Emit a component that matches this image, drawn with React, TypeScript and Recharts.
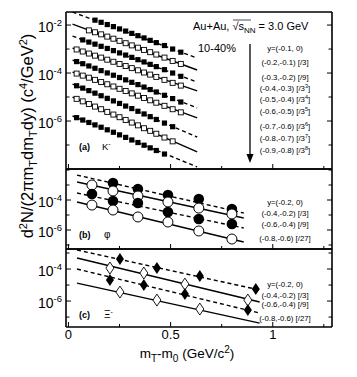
import React from "react";
import { ComposedChart, Scatter, XAxis, YAxis } from "recharts";

const FONT = "'Liberation Sans', Arial, Helvetica, sans-serif";

// shared x axis (mT - m0, GeV/c^2)
const xDomain = [-0.012, 1.29];
const xTicks = [0, 0.25, 0.5, 0.75, 1, 1.25];
const xLabelled = [0, 0.5, 1];

// (a) K-  : 9 rapidity slices, scaled by powers of 3
const kaonX = [0.04, 0.07, 0.1, 0.13, 0.16, 0.19, 0.22, 0.25, 0.28, 0.31, 0.34, 0.37, 0.4, 0.43, 0.47, 0.51, 0.55];
const kaonYields: (number | null)[][] = [
  [null, null, null, 1.6e-2, 1.3e-2, 1.05e-2, 8.6e-3, 6.9e-3, 5.6e-3, 4.5e-3, 3.6e-3, 2.9e-3, 2.3e-3, 1.85e-3, 1.4e-3, 1.0e-3, 7.4e-4],
  [null, null, 6.0e-3, 5.0e-3, 4.1e-3, 3.3e-3, 2.7e-3, 2.2e-3, 1.75e-3, 1.42e-3, 1.14e-3, 9.2e-4, 7.4e-4, 5.9e-4, 4.4e-4, 3.2e-4, 2.4e-4],
  [null, 2.4e-3, 1.95e-3, 1.6e-3, 1.3e-3, 1.06e-3, 8.6e-4, 6.9e-4, 5.6e-4, 4.5e-4, 3.6e-4, 2.9e-4, 2.3e-4, 1.85e-4, 1.38e-4, 1.0e-4, 7.3e-5],
  [9.6e-4, 7.9e-4, 6.5e-4, 5.3e-4, 4.4e-4, 3.6e-4, 2.95e-4, 2.4e-4, 1.95e-4, 1.6e-4, 1.3e-4, 1.05e-4, 8.6e-5, 6.9e-5, 5.2e-5, 3.9e-5, 3.0e-5],
  [3.0e-4, 2.45e-4, 1.97e-4, 1.58e-4, 1.26e-4, 1.01e-4, 8.1e-5, 6.5e-5, 5.2e-5, 4.1e-5, 3.3e-5, 2.6e-5, 2.05e-5, 1.62e-5, 1.18e-5, 8.6e-6, 6.2e-6],
  [9.5e-5, 7.8e-5, 6.4e-5, 5.2e-5, 4.2e-5, 3.4e-5, 2.75e-5, 2.2e-5, 1.78e-5, 1.42e-5, 1.14e-5, 9.1e-6, 7.3e-6, 5.8e-6, 4.3e-6, 3.1e-6, 2.3e-6],
  [2.95e-5, 2.35e-5, 1.85e-5, 1.45e-5, 1.13e-5, 8.8e-6, 6.9e-6, 5.4e-6, 4.2e-6, 3.3e-6, 2.55e-6, 1.97e-6, 1.52e-6, 1.16e-6, 8.2e-7, 5.8e-7, null],
  [8.4e-6, 6.6e-6, 5.1e-6, 4.0e-6, 3.1e-6, 2.4e-6, 1.86e-6, 1.44e-6, 1.11e-6, 8.6e-7, 6.6e-7, 5.0e-7, 3.9e-7, 2.95e-7, 2.05e-7, 1.42e-7, null],
  [1.38e-6, 1.1e-6, 8.7e-7, 6.9e-7, 5.5e-7, 4.3e-7, 3.4e-7, 2.65e-7, 2.08e-7, 1.62e-7, 1.27e-7, 9.8e-8, 7.6e-8, 5.9e-8, 4.2e-8, null, null],
];
const kaonFitX = [0.02, 0.63];
const kaonFitY = [
  [3.48e-2, 4.2e-4], [1.1e-2, 1.34e-4], [3.48e-3, 4.2e-5], [1.1e-3, 1.8e-5], [3.48e-4, 3.52e-6],
  [1.1e-4, 1.34e-6], [3.48e-5, 2.16e-7], [1.0e-5, 5.2e-8], [1.62e-6, 1.22e-8],
];
const kaonLabels = [
  "y=(-0.1, 0)", "(-0.2,-0.1) [/3]", "(-0.3,-0.2) [/9]", "(-0.4,-0.3) [/3^3]", "(-0.5,-0.4) [/3^4]",
  "(-0.6,-0.5) [/3^5]", "(-0.7,-0.6) [/3^6]", "(-0.8,-0.7) [/3^7]", "(-0.9,-0.8) [/3^8]",
];

// (b) phi
const phiX = [0.115, 0.218, 0.34, 0.487, 0.638, 0.8];
const phiYields: (number | null)[][] = [
  [null, 1.36e-3, 5.4e-4, 2.15e-4, 1.17e-4, 2.5e-5],
  [1.0e-3, 4.0e-4, 1.85e-4, 7.4e-5, 2.9e-5, 1.17e-5],
  [2.5e-4, 8.6e-5, 6.3e-5, 1.58e-5, 5.4e-6, 2.5e-6],
  [4.6e-5, 2.15e-5, 7.4e-6, 3.4e-6, 8.6e-7, 2.5e-7],
];
const phiFitX = [0.042, 0.858];
const phiFitY = [[4.6e-3, 1.36e-5], [1.58e-3, 6.3e-6], [2.93e-4, 1.36e-6], [7.4e-5, 1.58e-7]];
const phiLabels = ["y=(-0.2, 0)", "(-0.4,-0.2) [/3]", "(-0.6,-0.4) [/9]", "(-0.8,-0.6) [/27]"];

// (c) Xi-
const xiX = [
  [0.252, 0.433, 0.643, 0.917],
  [0.203, 0.369, 0.57, 0.878],
  [0.203, 0.369, 0.57, 0.878],
  [0.252, 0.433, 0.643],
];
const xiYields: (number | null)[][] = [
  [4.2e-4, 1.15e-4, 3.65e-5, 5.6e-6],
  [1.15e-4, 5.6e-5, 1.15e-5, 1.15e-6],
  [2.05e-5, 1.0e-5, 2.74e-6, 2.74e-7],
  [3.65e-6, 1.15e-6, 3.16e-7],
];
const xiFitX = [0.042, 0.936];
const xiFitY = [[1.54e-3, 4.9e-6], [4.9e-4, 8.7e-7], [1.0e-4, 1.78e-7], [1.33e-5, 4.2e-8]];
const xiLabels = phiLabels;

type Pt = { x: number; y: number };
const toPoints = (xs: number[], ys: (number | null)[]): Pt[] =>
  xs.flatMap((x, i) => (ys[i] == null ? [] : [{ x, y: ys[i] as number }]));

const W = 357;
const AXIS = { stroke: "#000", strokeWidth: 1.6 };

// marker shapes
const FilledSquare = (p: any) => <rect x={p.cx - 2.6} y={p.cy - 2.6} width={5.2} height={5.2} fill="#000" />;
const OpenSquare = (p: any) => (
  <rect x={p.cx - 2.5} y={p.cy - 2.5} width={5} height={5} fill="#fff" stroke="#000" strokeWidth={0.9} />
);
const FilledCircle = (p: any) => <circle cx={p.cx} cy={p.cy} r={5.3} fill="#000" />;
const OpenCircle = (p: any) => <circle cx={p.cx} cy={p.cy} r={5} fill="#fff" stroke="#000" strokeWidth={1} />;
const diamond = (cx: number, cy: number) => `M${cx},${cy - 6} L${cx + 4},${cy} L${cx},${cy + 6} L${cx - 4},${cy} Z`;
const FilledDiamond = (p: any) => <path d={diamond(p.cx, p.cy)} fill="#000" />;
const OpenDiamond = (p: any) => <path d={diamond(p.cx, p.cy)} fill="#fff" stroke="#000" strokeWidth={0.9} />;
const NoShape = () => <g />;

// ticks drawn inward
const LeftTick = (p: any) => {
  const e = Math.round(Math.log10(p.payload.value));
  const lab = p.labelled.includes(e);
  return (
    <g>
      <line x1={p.x} x2={p.x + (lab ? 5 : 3.5)} y1={p.y} y2={p.y} stroke="#000" />
      {lab && (
        <text x={p.x - 4} y={p.y + 7} textAnchor="end" fontSize={14} fontFamily={FONT} fill="#000">
          10<tspan dy={-6} fontSize={9.5}>{e}</tspan>
        </text>
      )}
    </g>
  );
};
const RightTick = (p: any) => {
  const e = Math.round(Math.log10(p.payload.value));
  const lab = p.labelled.includes(e);
  return <line x1={p.x - (lab ? 5 : 3.5)} x2={p.x} y1={p.y} y2={p.y} stroke="#000" />;
};
const BottomTick = (p: any) => {
  const v = p.payload.value;
  const major = xLabelled.includes(v);
  return (
    <g>
      <line x1={p.x} x2={p.x} y1={p.y} y2={p.y - (major ? 5 : 3)} stroke="#000" />
      {p.showLabels && major && (
        <text x={p.x} y={p.y + 12} textAnchor="middle" fontSize={13} fontFamily={FONT} fill="#000">
          {v}
        </text>
      )}
    </g>
  );
};
const TopTick = (p: any) => {
  const major = xLabelled.includes(p.payload.value);
  return <line x1={p.x} x2={p.x} y1={p.y} y2={p.y + (major ? 5 : 3)} stroke="#000" />;
};

function Panel(props: any) {
  const { top, height, mt, mb, yDomain, yTicks, labelled, xLabels, children } = props;
  return (
    <div style={{ position: "absolute", left: 0, top }}>
      <ComposedChart width={W} height={height} margin={{ top: mt, right: 24, bottom: mb, left: 0 }}>
        <XAxis xAxisId="b" dataKey="x" type="number" domain={xDomain} ticks={xTicks} interval={0} allowDataOverflow
          height={1} tickSize={0} tickMargin={0} tickLine={false} stroke="#000" axisLine={AXIS}
          tick={(p: any) => <BottomTick {...p} showLabels={xLabels} />} />
        <XAxis xAxisId="t" orientation="top" type="number" domain={xDomain} ticks={xTicks} interval={0} allowDataOverflow
          height={1} tickSize={0} tickMargin={0} tickLine={false} stroke="#000" axisLine={AXIS}
          tick={(p: any) => <TopTick {...p} />} />
        <YAxis yAxisId="l" dataKey="y" type="number" scale="log" domain={yDomain} ticks={yTicks} interval={0} allowDataOverflow
          width={66} tickSize={0} tickMargin={0} tickLine={false} stroke="#000" axisLine={AXIS}
          tick={(p: any) => <LeftTick {...p} labelled={labelled} />} />
        <YAxis yAxisId="r" orientation="right" type="number" scale="log" domain={yDomain} ticks={yTicks} interval={0} allowDataOverflow
          width={1} tickSize={0} tickMargin={0} tickLine={false} stroke="#000" axisLine={AXIS}
          tick={(p: any) => <RightTick {...p} labelled={labelled} />} />
        {children}
      </ComposedChart>
    </div>
  );
}

const fitSeries = (xs: number[], rows: number[][], prefix: string) =>
  rows.map((r, i) => (
    <Scatter key={`${prefix}f${i}`} xAxisId="b" yAxisId="l" data={toPoints(xs, r)} shape={NoShape}
      line={{ stroke: "#000", strokeWidth: 1.4, strokeDasharray: i % 2 === 0 ? "4 3" : undefined }}
      isAnimationActive={false} />
  ));

const pointSeries = (xs: number[] | number[][], rows: (number | null)[][], filled: any, open: any, prefix: string) =>
  rows.map((r, i) => (
    <Scatter key={`${prefix}p${i}`} xAxisId="b" yAxisId="l"
      data={toPoints(Array.isArray(xs[0]) ? (xs as number[][])[i] : (xs as number[]), r)}
      shape={i % 2 === 0 ? filled : open} isAnimationActive={false} />
  ));

// text with "^x" superscripts
function Rich(props: any) {
  const { s, size, ...rest } = props;
  const parts = String(s).split("^");
  return (
    <text fontSize={size} fontFamily={FONT} fill="#000" {...rest}>
      {parts[0]}
      {parts.slice(1).map((p: string, i: number) => (
        <React.Fragment key={i}>
          <tspan dy={-size * 0.4} fontSize={size * 0.7}>{p[0]}</tspan>
          <tspan dy={size * 0.4}>{p.slice(1)}</tspan>
        </React.Fragment>
      ))}
    </text>
  );
}

const kaonLabelY = [51, 65, 80, 91, 102, 114, 129, 141, 153];
const phiLabelY = [205, 216, 227, 241];
const xiLabelY = [287, 298, 307, 321];

export default function App() {
  return (
    <div style={{ position: "absolute", left: 0, top: 0, width: W, height: 377, background: "#fff" }}>
      <Panel top={0} height={170} mt={11} mb={0} yDomain={[1e-8, 0.035]}
        yTicks={[1e-7, 1e-6, 1e-5, 1e-4, 1e-3, 1e-2]} labelled={[-2, -4, -6]} xLabels={false}>
        {fitSeries(kaonFitX, kaonFitY, "k")}
        {pointSeries(kaonX, kaonYields, FilledSquare, OpenSquare, "k")}
      </Panel>
      <Panel top={168} height={82} mt={0} mb={0} yDomain={[5.4e-8, 1.17e-2]}
        yTicks={[1e-7, 1e-6, 1e-5, 1e-4, 1e-3, 1e-2]} labelled={[-4, -6]} xLabels={false}>
        {fitSeries(phiFitX, phiFitY, "p")}
        {pointSeries(phiX, phiYields, FilledCircle, OpenCircle, "p")}
      </Panel>
      <Panel top={248} height={111} mt={0} mb={31} yDomain={[2.4e-8, 1.78e-3]}
        yTicks={[1e-7, 1e-6, 1e-5, 1e-4, 1e-3]} labelled={[-4, -6]} xLabels={true}>
        {fitSeries(xiFitX, xiFitY, "x")}
        {pointSeries(xiX, xiYields, FilledDiamond, OpenDiamond, "x")}
      </Panel>

      <svg width={W} height={377} style={{ position: "absolute", left: 0, top: 0, pointerEvents: "none" }}>
        {/* y title */}
        <text transform="translate(33,136) rotate(-90)" textAnchor="middle" fontSize={16.5} fontFamily={FONT} fill="#000">
          d<tspan dy={-6} fontSize={11}>2</tspan>
          <tspan dy={6}>N/(2πm</tspan>
          <tspan dy={4} fontSize={11}>T</tspan>
          <tspan dy={-4}>dm</tspan>
          <tspan dy={4} fontSize={11}>T</tspan>
          <tspan dy={-4}>dy) (c</tspan>
          <tspan dy={-6} fontSize={11}>4</tspan>
          <tspan dy={6}>/GeV</tspan>
          <tspan dy={-6} fontSize={11}>2</tspan>
          <tspan dy={6}>)</tspan>
        </text>
        {/* x title */}
        <text x={187} y={358} textAnchor="middle" fontSize={13.5} fontFamily={FONT} fill="#000">
          m<tspan dy={4} fontSize={10}>T</tspan>
          <tspan dy={-4}>-m</tspan>
          <tspan dy={4} fontSize={10}>0</tspan>
          <tspan dy={-4}> (GeV/c</tspan>
          <tspan dy={-5} fontSize={10}>2</tspan>
          <tspan dy={5}>)</tspan>
        </text>

        {/* panel (a) */}
        <text x={193} y={30} fontSize={11} fontFamily={FONT} fill="#000">
          Au+Au, √s<tspan dy={3} fontSize={8}>NN</tspan>
          <tspan dy={-3}> = 3.0 GeV</tspan>
        </text>
        <line x1={233} x2={251} y1={20} y2={20} stroke="#000" strokeWidth={0.7} />
        <text x={198} y={52} fontSize={11} fontFamily={FONT} fill="#000">10-40%</text>
        <line x1={250} x2={250} y1={44} y2={156} stroke="#000" strokeWidth={1.3} />
        <path d="M246.5,154 L253.5,154 L250,163 Z" fill="#000" />
        {kaonLabels.map((s, i) => (
          <Rich key={s} s={s} size={7.8} x={285} y={kaonLabelY[i]} textAnchor="middle" />
        ))}
        <text x={79} y={150} fontSize={9} fontWeight="bold" fontFamily={FONT} fill="#000">(a)</text>
        <text x={102} y={150} fontSize={9.5} fontFamily={FONT} fill="#000">
          K<tspan dy={-4} fontSize={7}>-</tspan>
        </text>

        {/* panel (b) */}
        {phiLabels.map((s, i) => (
          <Rich key={s} s={s} size={7.8} x={285} y={phiLabelY[i]} textAnchor="middle" />
        ))}
        <text x={79} y={238} fontSize={9} fontWeight="bold" fontFamily={FONT} fill="#000">(b)</text>
        <text x={104} y={238} fontSize={10} fontFamily={FONT} fill="#000">φ</text>

        {/* panel (c) */}
        {xiLabels.map((s, i) => (
          <Rich key={s} s={s} size={7.8} x={285} y={xiLabelY[i]} textAnchor="middle" />
        ))}
        <text x={79} y={318} fontSize={9} fontWeight="bold" fontFamily={FONT} fill="#000">(c)</text>
        <text x={104} y={318} fontSize={10} fontFamily={FONT} fill="#000">
          Ξ<tspan dy={-4} fontSize={7}>-</tspan>
        </text>
      </svg>
    </div>
  );
}
